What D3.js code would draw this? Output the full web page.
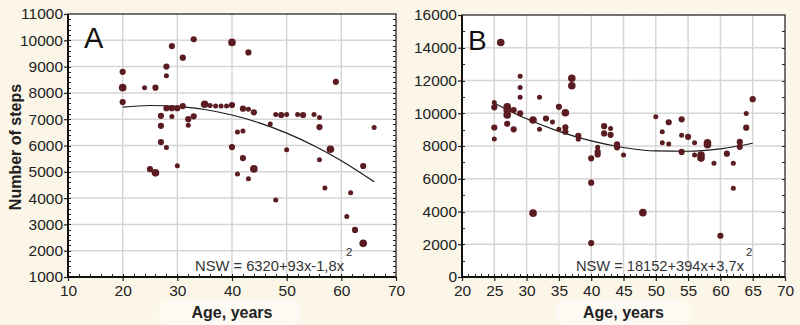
<!DOCTYPE html>
<html><head><meta charset="utf-8">
<script src="https://cdn.jsdelivr.net/npm/d3@7"></script>
<style>
html,body{margin:0;padding:0;background:#fcf6e9;}
svg{display:block;font-family:Arial,"Liberation Sans",sans-serif;}
</style></head>
<body>
<svg id="chart" width="800" height="325"></svg>
<script>
// ---- Panel A data (age, steps, overlap weight) ----
const agesA  = [20,20,20,24,26,28,28,29,31,33,40,43,59,27,27,27,28,28,29,29,30,31,32,32,33,30,25,26,35,36,37,38,39,40,40,41,42,41,42,43,44,42,43,44,47,48,48,49,50,50,52,53,55,56,56,56,57,58,61,61.7,62.5,64,64,66];
const stepsA = [8800,8200,7650,8200,8200,9000,8650,9780,9340,10040,9920,9540,8420,7130,6750,6130,5920,7420,7420,7100,7420,7500,7000,6770,7110,5230,5100,4960,7570,7520,7500,7500,7500,7540,5940,6510,6550,4920,5520,4740,5110,7400,7380,7260,6820,3930,7180,7160,7180,5840,7180,7160,7180,7060,6700,5460,4380,5860,3300,4200,2790,2280,5220,6680];
const countA = [2,3,2,1,2,2,1,2,2,2,3,2,2,2,2,2,1,2,2,1,2,2,2,1,2,1,2,3,3,1,1,1,1,2,2,1,1,1,2,1,3,2,1,2,1,1,1,2,1,1,1,2,1,1,2,1,1,3,1,1,2,3,2,1];
const fitAgesA  = [20,25,30,35,40,45,50,55,60,66];
const fitStepsA = [7460,7520,7490,7370,7160,6860,6470,5990,5420,4620];
const ticksXA = [10,20,30,40,50,60,70];
const ticksYA = [1000,2000,3000,4000,5000,6000,7000,8000,9000,10000,11000];
const labelA = "A";
const eqA = "NSW = 6320+93x-1,8x";

// ---- Panel B data ----
const agesB  = [25,25,25,25,26,27,27,27,27,28,28,29,29,29,29,31,31,32,32,33,34,35,35,36,36,36,37,37,38,38,40,40,40,41,41,41,42,42,43,43,44,44,45,48,50,51,51,52,52,54,54,54,55,56,56,57,57,58,58,59,60,61,62,62,63,63,64,64,65];
const stepsB = [10650,10360,9130,8430,14320,10400,10200,9900,9360,10200,9020,12260,11580,10970,10000,9590,3900,10970,9020,9680,9470,10390,9020,10030,9140,8870,12140,11680,8620,8410,7250,5760,2070,7920,7650,7480,9210,8770,9070,8680,8100,7920,7450,3930,9790,8870,8200,9450,8120,9630,8650,7640,8560,8200,7450,7450,7260,8200,8080,6950,2520,7530,6950,5420,8250,7950,9980,9120,10860];
const countB = [1,2,2,1,3,3,3,3,2,2,2,1,1,1,2,3,3,1,1,2,1,2,1,3,2,2,3,3,2,1,2,2,2,1,2,2,2,2,1,2,2,2,1,3,1,1,1,2,1,2,1,2,2,1,1,3,3,3,3,1,2,2,1,1,2,2,1,2,2];
const fitAgesB  = [25,30,35,40,45,50,55,60,65];
const fitStepsB = [10610,9660,8890,8310,7910,7700,7680,7830,8170];
const ticksXB = [20,25,30,35,40,45,50,55,60,65,70];
const ticksYB = [0,2000,4000,6000,8000,10000,12000,14000,16000];
const labelB = "B";
const eqB = "NSW = 18152+394x+3,7x";

const yTitle = "Number of steps";
const xTitle = "Age, years";

const svg = d3.select("#chart");
const dotColor = "#5b1c21";
const rad = c => c === 1 ? 2.5 : (c === 2 ? 3.1 : 3.8);

// soft light patches behind x titles (as in the scanned figure)
svg.append("rect").attr("x",158).attr("y",300).attr("width",144).attr("height",25).attr("rx",12).attr("fill","#ffffff").attr("opacity",0.45);
svg.append("rect").attr("x",555).attr("y",300).attr("width",136).attr("height",25).attr("rx",12).attr("fill","#ffffff").attr("opacity",0.45);

function panel(o){
  const x = d3.scaleLinear().domain(o.xDom).range([o.left,o.right]);
  const y = d3.scaleLinear().domain(o.yDom).range([o.bottom,o.top]);
  const g = svg.append("g");
  g.append("rect").attr("x",o.left).attr("y",o.top).attr("width",o.right-o.left).attr("height",o.bottom-o.top).attr("fill","#fff");
  // grid
  g.append("g").selectAll("line").data(o.tx.slice(1,-1)).join("line")
    .attr("x1",d=>x(d)).attr("x2",d=>x(d)).attr("y1",o.top).attr("y2",o.bottom)
    .attr("stroke","#d6d6d6").attr("stroke-width",1.5);
  g.append("g").selectAll("line").data(o.ty.slice(1,-1)).join("line")
    .attr("y1",d=>y(d)).attr("y2",d=>y(d)).attr("x1",o.left).attr("x2",o.right)
    .attr("stroke","#d6d6d6").attr("stroke-width",1.5);
  // minor ticks (inside)
  const minY = d3.range(o.yDom[0], o.yDom[1], o.minY);
  const minX = d3.range(o.xDom[0], o.xDom[1], o.minX);
  g.append("g").selectAll("line").data(minY).join("line")
    .attr("x1",o.left).attr("x2",o.left+3).attr("y1",d=>Math.round(y(d))+0.5).attr("y2",d=>Math.round(y(d))+0.5)
    .attr("stroke","#222").attr("stroke-width",1);
  g.append("g").selectAll("line").data(minY).join("line")
    .attr("x1",o.right).attr("x2",o.right-3).attr("y1",d=>Math.round(y(d))+0.5).attr("y2",d=>Math.round(y(d))+0.5)
    .attr("stroke","#222").attr("stroke-width",1);
  g.append("g").selectAll("line").data(minX).join("line")
    .attr("y1",o.bottom).attr("y2",o.bottom-3).attr("x1",d=>Math.round(x(d))+0.5).attr("x2",d=>Math.round(x(d))+0.5)
    .attr("stroke","#222").attr("stroke-width",1);
  // major ticks (outside) via axes
  const ax = g.append("g").attr("transform",`translate(0,${o.bottom})`)
    .call(d3.axisBottom(x).tickValues(o.tx).tickSize(4).tickPadding(4).tickFormat(d3.format("d")));
  const ay = g.append("g").attr("transform",`translate(${o.left},0)`)
    .call(d3.axisLeft(y).tickValues(o.ty).tickSize(4).tickPadding(1).tickFormat(d3.format("d")));
  [ax,ay].forEach(a=>{
    a.select(".domain").remove();
    a.selectAll("line").attr("stroke","#222").attr("stroke-width",1.2);
    a.selectAll("text").attr("fill","#222").attr("font-size",15.5).attr("font-family","Arial,'Liberation Sans',sans-serif");
  });
  // frame
  g.append("rect").attr("x",o.left).attr("y",o.top).attr("width",o.right-o.left).attr("height",o.bottom-o.top)
    .attr("fill","none").attr("stroke","#2a2a2a").attr("stroke-width",1.3);
  g.append("line").attr("x1",o.left).attr("x2",o.left).attr("y1",o.top).attr("y2",o.bottom+1).attr("stroke","#111").attr("stroke-width",2);
  g.append("line").attr("x1",o.left-1).attr("x2",o.right).attr("y1",o.bottom).attr("y2",o.bottom).attr("stroke","#111").attr("stroke-width",2);
  // fit curve
  const line = d3.line().x(d=>x(d[0])).y(d=>y(d[1])).curve(d3.curveMonotoneX);
  g.append("path").datum(d3.zip(o.fx,o.fy)).attr("d",line).attr("fill","none").attr("stroke","#1a1a1a").attr("stroke-width",1.2);
  // points
  g.append("g").selectAll("circle").data(d3.zip(o.ax,o.sy,o.cn)).join("circle")
    .attr("cx",d=>x(d[0])).attr("cy",d=>y(d[1])).attr("r",d=>rad(d[2])).attr("fill",dotColor);
  // panel letter
  g.append("text").attr("x",o.left+o.lx).attr("y",o.top+o.ly).attr("font-size",o.lsize).attr("fill","#111").text(o.label);
  // equation
  g.append("text").attr("x",o.eqx).attr("y",271).attr("font-size",14).attr("fill","#333")
    .attr("textLength",o.eqw).attr("lengthAdjust","spacingAndGlyphs").text(o.eq);
  g.append("text").attr("x",o.eqx+o.eqw+2).attr("y",256).attr("font-size",11.5).attr("fill","#333").text("2");
  // x title
  g.append("text").attr("x",(o.left+o.right)/2).attr("y",318).attr("text-anchor","middle")
    .attr("font-size",16).attr("font-weight","bold").attr("fill","#222").text(xTitle);
}

panel({xDom:[10,70], yDom:[1000,11000], left:68, right:396, top:14, bottom:277,
  tx:ticksXA, ty:ticksYA, minX:2, minY:200, fx:fitAgesA, fy:fitStepsA,
  ax:agesA, sy:stepsA, cn:countA, label:labelA, lx:16, ly:34, lsize:29, eq:eqA, eqx:195, eqw:149});
panel({xDom:[20,70], yDom:[0,16000], left:462, right:785, top:15, bottom:277,
  tx:ticksXB, ty:ticksYB, minX:1, minY:1000, fx:fitAgesB, fy:fitStepsB,
  ax:agesB, sy:stepsB, cn:countB, label:labelB, lx:6, ly:35, lsize:28, eq:eqB, eqx:576, eqw:168});

// y title (panel A only)
svg.append("text").attr("transform","translate(21,147) rotate(-90)").attr("text-anchor","middle")
  .attr("font-size",16).attr("font-weight","bold").attr("fill","#222").text(yTitle);
</script>
</body></html>
